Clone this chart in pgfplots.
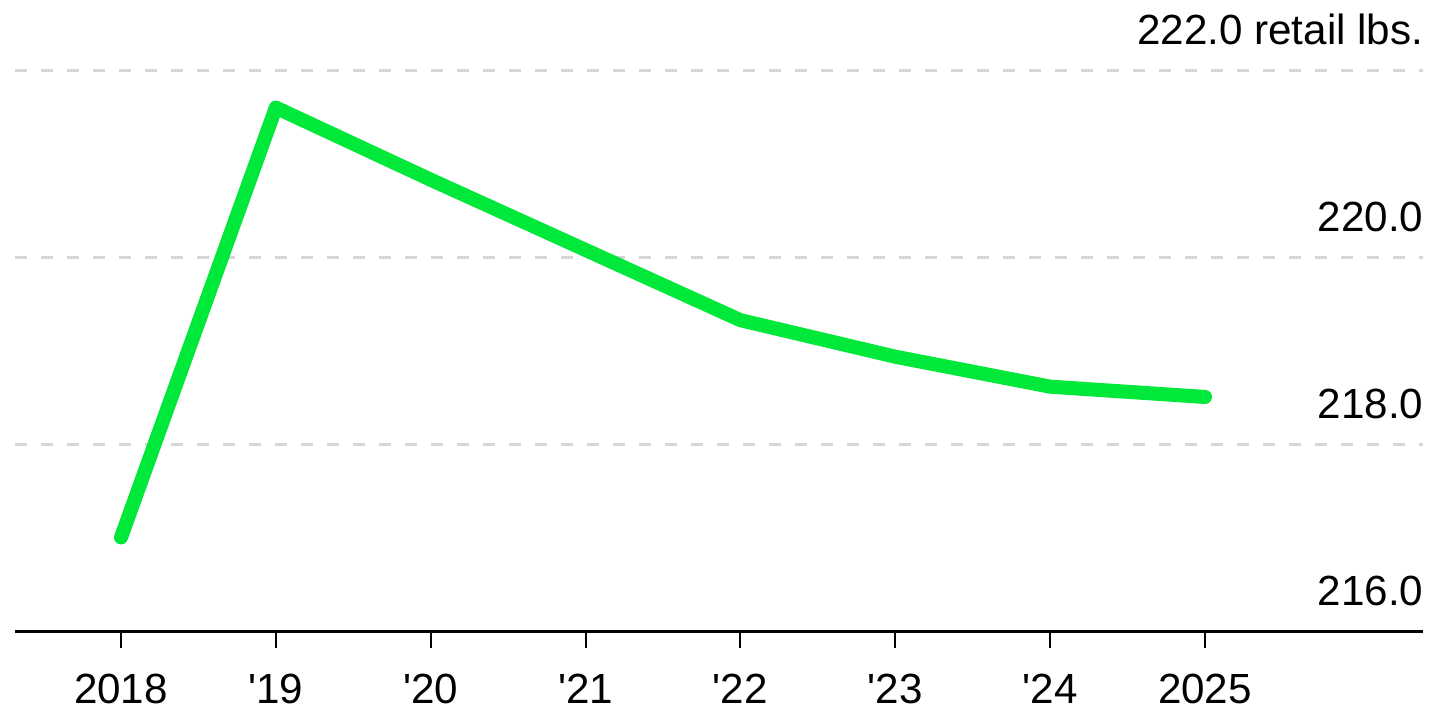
\documentclass[border=0pt]{standalone}
\usepackage{fontspec}
\setmainfont{Liberation Sans}
\usepackage{pgfplots}
\pgfplotsset{compat=1.18}
\definecolor{linegreen}{RGB}{0,232,58}
\definecolor{gridgray}{RGB}{214,214,214}
\begin{document}
\fontsize{12}{14}\selectfont
\begin{tikzpicture}
\begin{axis}[
  name=ax,
  scale only axis,
  width=14.08cm, height=6.18cm,
  xmin=2017.3155, xmax=2026.408,
  ymin=216, ymax=222.6,
  axis x line=bottom,
  axis y line=right,
  x axis line style={-, line width=0.85pt, black},
  y axis line style={draw=none},
  xtick={2018,2019,2020,2021,2022,2023,2024,2025},
  xticklabels={2018,\textquotesingle19,\textquotesingle20,\textquotesingle21,\textquotesingle22,\textquotesingle23,\textquotesingle24,2025},
  xtick align=outside,
  major tick length=0.16cm,
  xtick style={line width=0.6pt, black},
  xticklabel style={anchor=base, inner sep=0pt, yshift=-0.56cm, font=\fontsize{12}{14}\selectfont},
  ytick={216,218,220,222},
  yticklabels={216.0,218.0,220.0,222.0 retail lbs.},
  ytick style={draw=none},
  yticklabel style={anchor=base east, inner sep=0pt, xshift=-0.07cm, yshift=0.26cm, font=\fontsize{12}{14}\selectfont},
  ymajorgrids,
  major grid style={gridgray, line width=0.85pt, dash pattern=on 0.12cm off 0.14cm},
  clip=false,
]
\addplot[linegreen, line width=4pt, line join=round, line cap=round] coordinates {
  (2018,217.01) (2019,221.60) (2020,220.83) (2021,220.08)
  (2022,219.33) (2023,218.94) (2024,218.62) (2025,218.51)
};
\end{axis}
\pgfresetboundingbox
\path (ax.south west) ++(-0.15cm,-0.79cm) rectangle ++(14.35cm,7.11cm);
\end{tikzpicture}
\end{document}
